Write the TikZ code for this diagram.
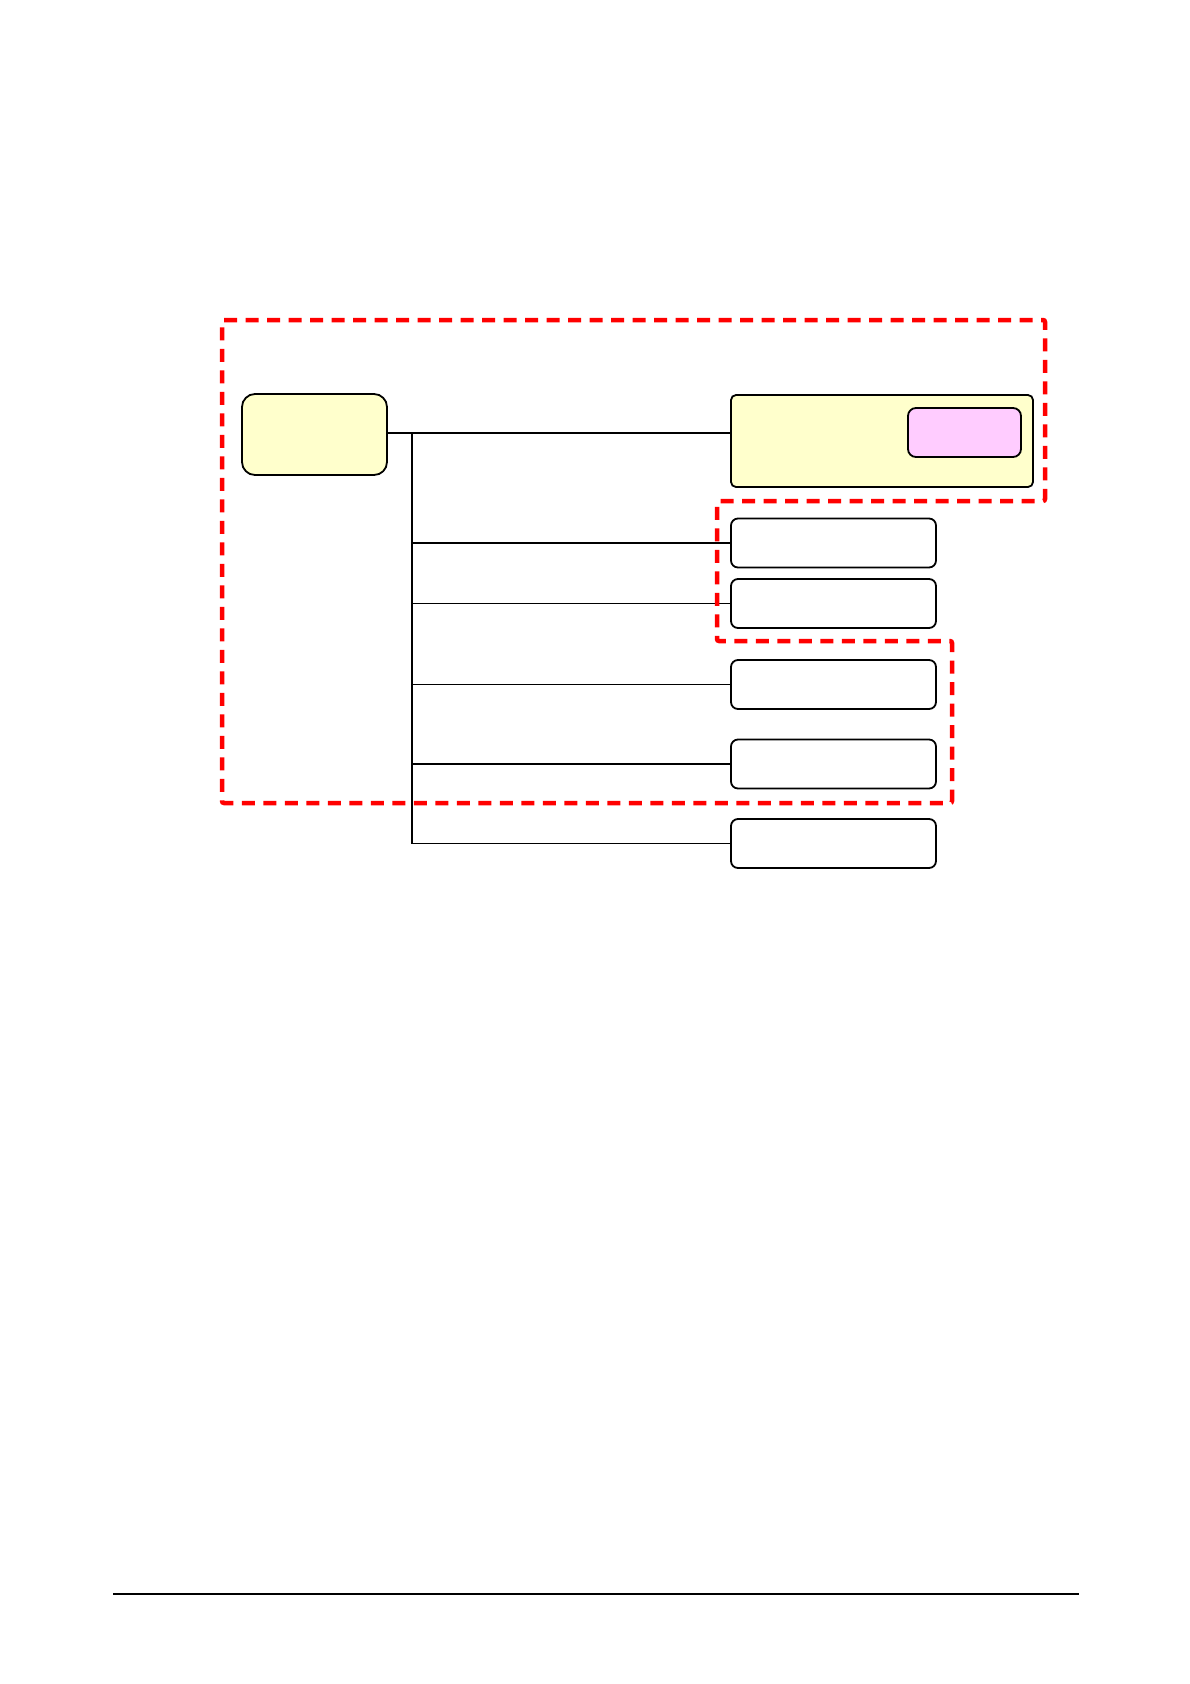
\documentclass[tikz,border=0pt]{standalone}
\definecolor{paleyellow}{HTML}{FFFFCC}
\definecolor{palepink}{HTML}{FFCCFF}
\begin{document}
\begin{tikzpicture}[x=1pt,y=-1pt,line width=1.3pt,
    main node/.style={draw,line width=1.8pt,rounded corners=7pt,inner sep=0pt,minimum width=205pt,minimum height=49pt},
    yellow node/.style={main node,fill=paleyellow},
    sub node/.style={main node,fill=palepink,minimum width=113pt,minimum height=49pt,rounded corners=8pt},
    frame/.style={draw=red,line width=4.5pt,dash pattern=on 13pt off 8.5pt,rounded corners=2pt}]
    \useasboundingbox (0,0) rectangle (1190,1684);

    \node[yellow node,minimum width=145pt,minimum height=81pt,rounded corners=13pt] (1) at (314.5,434.5) {};
    \node[yellow node,minimum width=302pt,minimum height=92pt,rounded corners=5pt] (2) at (882,441) {};
    \node[sub node] (3) at (964.5,432.5) {};
    \node[main node] (4) at (833.5,543) {};
    \node[main node] (5) at (833.5,603.5) {};
    \node[main node] (6) at (833.5,684.5) {};
    \node[main node] (7) at (833.5,764) {};
    \node[main node] (8) at (833.5,843.5) {};
    \coordinate (t) at (412,433);

    \path
        (1.east |- t) edge (2.west |- t)
        (t) edge (t |- 8)
        (t |- 4) edge (4.west)
        (t |- 5) edge (5.west)
        (t |- 6) edge (6.west)
        (t |- 7) edge (7.west)
        (t |- 8) edge (8.west);

    \draw[frame] (222,320) -- (1045,320) -- (1045,501) -- (717,501) -- (717,641)
        -- (952,641) -- (952,803) -- (222,803) -- cycle;
    \draw[line width=2pt] (113,1594) -- (1079,1594);
\end{tikzpicture}
\end{document}
